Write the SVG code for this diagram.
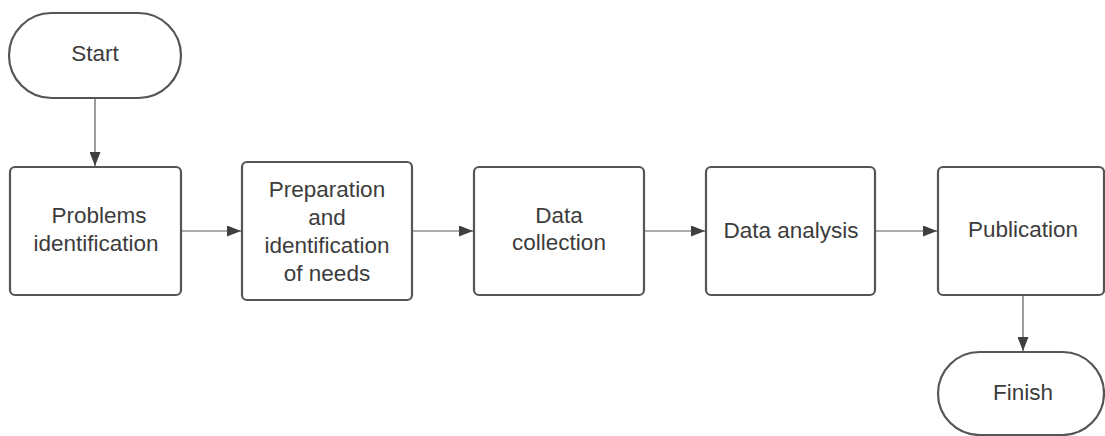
<svg xmlns="http://www.w3.org/2000/svg" width="1105" height="436" viewBox="0 0 1105 436">
  <style>
    .shape { fill: #ffffff; stroke: #555555; stroke-width: 2.2; }
    .label { font-family: "Liberation Sans", Arial, sans-serif; font-size: 22.5px; fill: #3c3c3c; text-anchor: middle; dominant-baseline: central; }
    .link { fill: none; stroke: #5a5a5a; stroke-width: 1.2; marker-end: url(#arrow); }
  </style>
  <defs>
    <marker id="arrow" viewBox="0 0 14 11" refX="14" refY="5.5" markerWidth="14" markerHeight="11" markerUnits="userSpaceOnUse" orient="auto">
      <path d="M0,0 L14,5.5 L0,11 Z" fill="#3f3f3f"/>
    </marker>
  </defs>
  <rect width="1105" height="436" fill="#ffffff"/>

  <g id="connectors">
    <line class="link" x1="95" y1="98" x2="95" y2="166"/>
    <line class="link" x1="181" y1="231" x2="241" y2="231"/>
    <line class="link" x1="412" y1="231" x2="473" y2="231"/>
    <line class="link" x1="644" y1="231" x2="705" y2="231"/>
    <line class="link" x1="875" y1="231" x2="937" y2="231"/>
    <line class="link" x1="1023" y1="295" x2="1023" y2="351"/>
  </g>

  <g id="start">
    <rect class="shape" x="9" y="13" width="172" height="85" rx="42.5" ry="42.5"/>
    <text class="label" x="95" y="53">Start</text>
  </g>

  <g id="problems">
    <rect class="shape" x="10" y="167" width="171" height="128" rx="5"/>
    <text class="label" x="99" y="215">Problems</text>
    <text class="label" x="96" y="243">identification</text>
  </g>

  <g id="preparation">
    <rect class="shape" x="242" y="162" width="170" height="138" rx="5"/>
    <text class="label" x="327" y="189">Preparation</text>
    <text class="label" x="327" y="217">and</text>
    <text class="label" x="327" y="245">identification</text>
    <text class="label" x="327" y="273">of needs</text>
  </g>

  <g id="collection">
    <rect class="shape" x="474" y="167" width="170" height="128" rx="5"/>
    <text class="label" x="559" y="215">Data</text>
    <text class="label" x="559" y="242">collection</text>
  </g>

  <g id="analysis">
    <rect class="shape" x="706" y="167" width="169" height="128" rx="5"/>
    <text class="label" x="791" y="230">Data analysis</text>
  </g>

  <g id="publication">
    <rect class="shape" x="938" y="167" width="166" height="128" rx="5"/>
    <text class="label" x="1023" y="229">Publication</text>
  </g>

  <g id="finish">
    <rect class="shape" x="938" y="352" width="166" height="83" rx="41.5" ry="41.5"/>
    <text class="label" x="1023" y="392">Finish</text>
  </g>
</svg>
